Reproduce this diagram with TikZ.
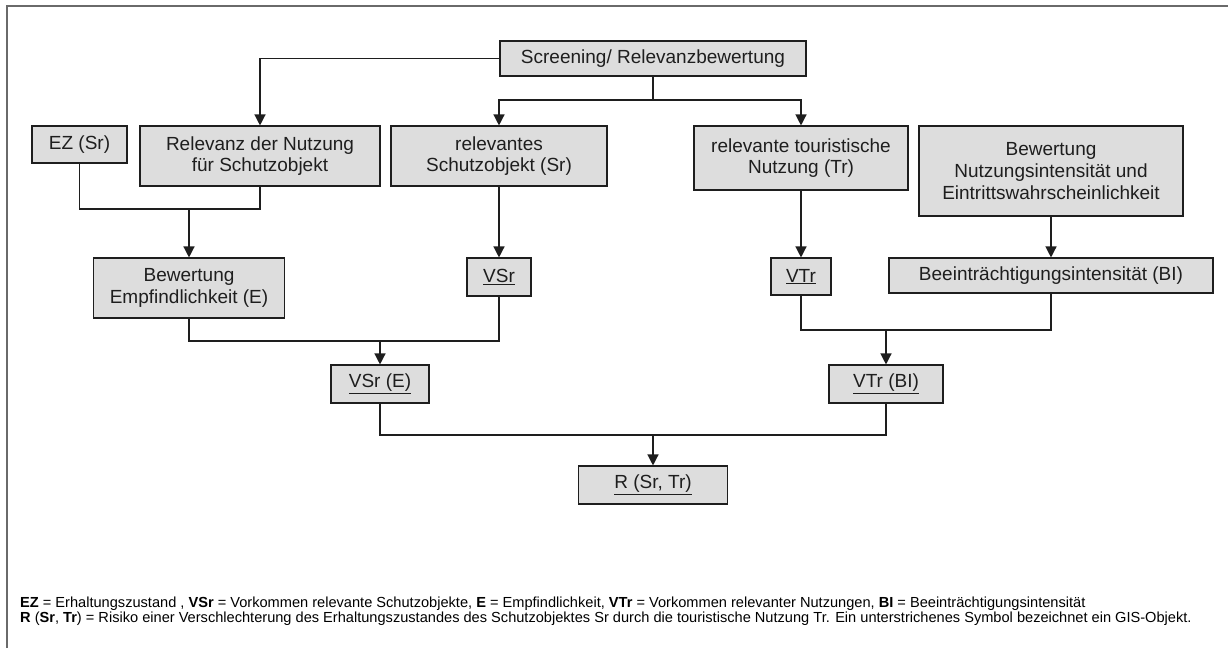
\documentclass[tikz,border=0pt]{standalone}
\usepackage{fontspec}
\setmainfont{Liberation Sans}
\usetikzlibrary{arrows.meta,positioning,calc}
\definecolor{boxfill}{HTML}{DDDDDD}
\definecolor{ink}{HTML}{1E1E1E}
\definecolor{rahmen}{HTML}{6A6A6A}

\begin{document}
\begin{tikzpicture}[x=1pt, y=-1pt,
  box/.style={draw=ink, fill=boxfill, line width=1.1pt, inner sep=0pt, align=center,
    font=\fontsize{19}{21.7}\selectfont, text=ink},
  link/.style={draw=ink, line width=1.3pt},
  pfeil/.style={link, -{Triangle[length=11pt,width=11pt]}}]
  \useasboundingbox (0,0) rectangle (1228,648);
  \draw[rahmen, line width=1.6pt] (7,648) -- (7,6) -- (1228,6);
  \node[box, minimum width=306pt, minimum height=35pt] (screen) at (653,58.5) {Screening/ Relevanzbewertung};
  \node[box, minimum width=95pt, minimum height=37pt] (ez) at (79.5,144.5) {EZ (Sr)};
  \node[box, minimum width=240pt, minimum height=60pt] (relnutz) at (260,156) {Relevanz der Nutzung\\f\"ur Schutzobjekt};
  \node[box, minimum width=216pt, minimum height=60pt] (relschutz) at (499,156) {relevantes\\Schutzobjekt (Sr)};
  \node[box, minimum width=214pt, minimum height=64pt] (reltour) at (801,158) {relevante touristische\\Nutzung (Tr)};
  \node[box, minimum width=264pt, minimum height=90pt] (bewnutz) at (1051,171) {Bewertung\\Nutzungsintensit\"at und\\Eintrittswahrscheinlichkeit};
  \node[box, minimum width=191pt, minimum height=60pt] (bewemp) at (189,288) {Bewertung\\Empfindlichkeit (E)};
  \node[box, minimum width=64pt, minimum height=38pt] (vsr) at (499,277) {\underline{VSr}};
  \node[box, minimum width=60pt, minimum height=37pt] (vtr) at (801,276.5) {\underline{VTr}};
  \node[box, minimum width=324pt, minimum height=35pt] (bi) at (1051,275.5) {Beeintr\"achtigungsintensit\"at (BI)};
  \node[box, minimum width=98pt, minimum height=38pt] (vsre) at (380,384) {\underline{VSr (E)}};
  \node[box, minimum width=114pt, minimum height=38pt] (vtrbi) at (886,384) {\underline{VTr (BI)}};
  \node[box, minimum width=149pt, minimum height=38pt] (risk) at (653,485) {\underline{R (Sr, Tr)}};
  \coordinate (jt) at (653,100);
  \coordinate (j1) at (189,209);
  \coordinate (j2) at (380,341);
  \coordinate (j3) at (886,330);
  \coordinate (j4) at (653,435);
  \draw[link] (screen.south) -- (jt);
  \draw[pfeil] (jt) -| (relschutz.north);
  \draw[pfeil] (jt) -| (reltour.north);
  \draw[pfeil] (screen.west) -| (relnutz.north);
  \draw[link] (ez.south) |- (j1) -| (relnutz.south);
  \draw[pfeil] (j1) -- (bewemp.north);
  \draw[pfeil] (relschutz.south) -- (vsr.north);
  \draw[pfeil] (reltour.south) -- (vtr.north);
  \draw[pfeil] (bewnutz.south) -- (bi.north);
  \draw[link] (bewemp.south) |- (j2) -| (vsr.south);
  \draw[pfeil] (j2) -- (vsre.north);
  \draw[link] (vtr.south) |- (j3) -| (bi.south);
  \draw[pfeil] (j3) -- (vtrbi.north);
  \draw[link] (vsre.south) |- (j4) -| (vtrbi.south);
  \draw[pfeil] (j4) -- (risk.north);
  \node[anchor=west, align=left, inner sep=0pt, font=\fontsize{14.6}{14.8}\selectfont] (legende) at (20,611)
    {\textbf{EZ} = Erhaltungszustand , \textbf{VSr} = Vorkommen relevante Schutzobjekte, \textbf{E} = Empfindlichkeit, \textbf{VTr} = Vorkommen relevanter Nutzungen, \textbf{BI} = Beeintr\"achtigungsintensit\"at\\
     \textbf{R} (\textbf{Sr}, \textbf{Tr}) = Risiko einer Verschlechterung des Erhaltungszustandes des Schutzobjektes Sr durch die touristische Nutzung Tr. Ein unterstrichenes Symbol bezeichnet ein GIS-Objekt.};
\end{tikzpicture}
\end{document}
